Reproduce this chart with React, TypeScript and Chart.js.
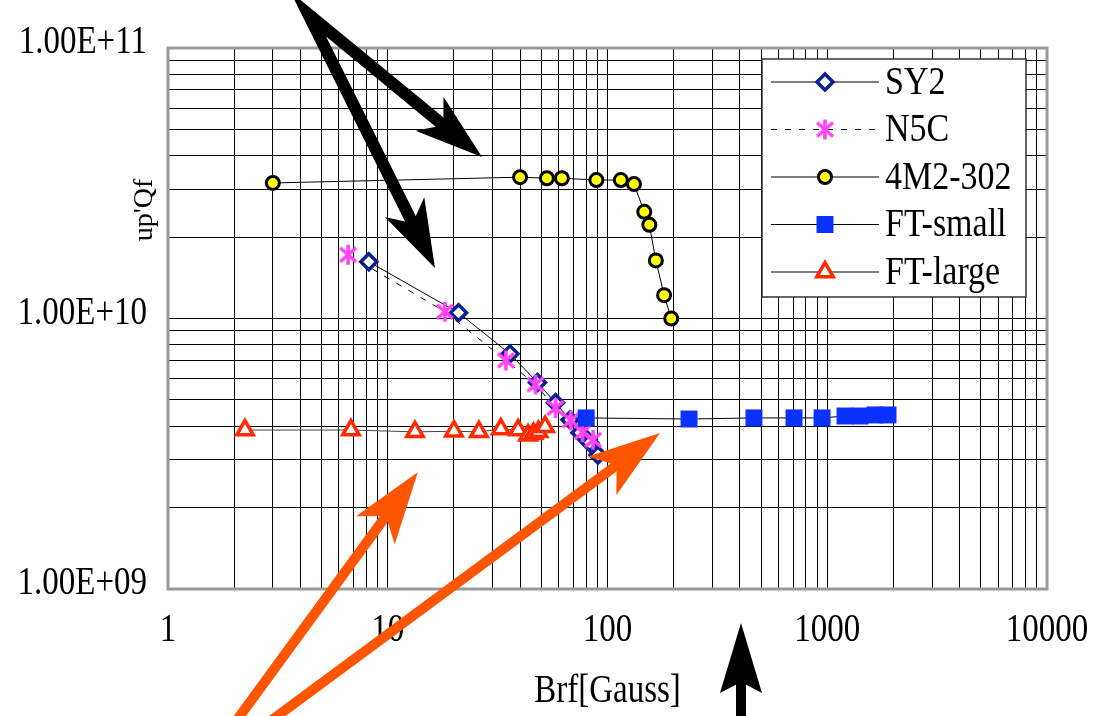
import React, { useEffect, useRef } from 'react';
import { Chart, registerables } from 'chart.js';
import { drawPoint } from 'chart.js/helpers';

Chart.register(...registerables);

// ---- data ----
const sy2X = [8.2, 21, 36, 48, 58, 67.5, 75, 83, 90.5];
const sy2Y = [1.62e10, 1.05e10, 7.4e9, 5.8e9, 4.88e9, 4.22e9, 3.78e9, 3.47e9, 3.13e9];

const n5cX = [6.6, 18.2, 34.5, 47, 58, 68, 77, 86];
const n5cY = [1.72e10, 1.06e10, 7.0e9, 5.7e9, 4.67e9, 4.2e9, 3.8e9, 3.56e9];

const m4X = [3, 40, 53, 62, 89, 115, 132, 147, 155, 166, 181, 195];
const m4Y = [3.17e10, 3.33e10, 3.3e10, 3.3e10, 3.25e10, 3.25e10, 3.14e10, 2.48e10, 2.22e10, 1.64e10, 1.22e10, 1.0e10];

const ftSmallX = [80, 235, 464, 706, 947, 1205, 1410, 1650, 1890];
const ftSmallY = [4.29e9, 4.25e9, 4.29e9, 4.29e9, 4.29e9, 4.36e9, 4.36e9, 4.4e9, 4.4e9];

const ftLargeX = [2.24, 6.8, 13.3, 20, 26, 32.7, 39.2, 43.5, 46, 48.5, 52];
const ftLargeY = [3.87e9, 3.87e9, 3.81e9, 3.83e9, 3.81e9, 3.9e9, 3.87e9, 3.7e9, 3.75e9, 3.81e9, 3.98e9];

const seriesNames = ['SY2', 'N5C', '4M2-302', 'FT-small', 'FT-large'];

const xTickValues = [1, 10, 100, 1000, 10000];
const xTickLabels = ['1', '10', '100', '1000', '10000'];
const yTickValues = [1e9, 1e10, 1e11];
const yTickLabels = ['1.00E+09', '1.00E+10', '1.00E+11'];
const xTitle = 'Brf[Gauss]';
const yTitle = "up'Qf";

// annotation arrows, in data coordinates
const blackArrowTail = [4.34, 1.336e11];
const blackArrowTips = [
  [26.85, 3.954e10],
  [16.4, 1.537e10],
];
const blackUpArrow = [405, 3.28e8, 405, 7.49e8];
const orangeArrows = [
  [2.06, 3.28e8, 13.7, 2.7e9],
  [2.97, 3.28e8, 173.4, 3.77e9],
];

const SERIF = '"Liberation Serif", "Times New Roman", serif';

function txt(ctx, s, x, y, size, align, sy = 1.2) {
  ctx.save();
  ctx.translate(x, y);
  ctx.scale(1, sy);
  ctx.font = `${size}px ${SERIF}`;
  ctx.textAlign = align;
  ctx.textBaseline = 'middle';
  ctx.fillStyle = '#000';
  ctx.fillText(s, 0, 0);
  ctx.restore();
}

function arrowHead(ctx, x0, y0, x1, y1, L, W, N) {
  const dx = x1 - x0, dy = y1 - y0;
  const len = Math.hypot(dx, dy);
  const ux = dx / len, uy = dy / len;
  const nx = -uy, ny = ux;
  ctx.beginPath();
  ctx.moveTo(x1, y1);
  ctx.lineTo(x1 - ux * L + nx * W, y1 - uy * L + ny * W);
  ctx.lineTo(x1 - ux * N, y1 - uy * N);
  ctx.lineTo(x1 - ux * L - nx * W, y1 - uy * L - ny * W);
  ctx.closePath();
  ctx.fill();
  return [x1 - ux * N, y1 - uy * N];
}

function makeGridTicks(min, max) {
  const ticks = [];
  for (let e = Math.round(Math.log10(min)); e <= Math.round(Math.log10(max)); e++) {
    for (let m = 1; m <= 9; m++) {
      const v = m * Math.pow(10, e);
      if (v >= min * 0.999 && v <= max * 1.001) ticks.push({ value: v });
    }
  }
  return ticks;
}

function makeAsterisk() {
  const c = document.createElement('canvas');
  c.width = 20;
  c.height = 22;
  const g = c.getContext('2d');
  g.strokeStyle = '#ff44f4';
  g.lineWidth = 3.6;
  g.lineCap = 'butt';
  g.beginPath();
  g.moveTo(10, 1); g.lineTo(10, 21);
  g.moveTo(2, 4); g.lineTo(18, 18);
  g.moveTo(18, 4); g.lineTo(2, 18);
  g.stroke();
  return c;
}

const decorPlugin = {
  id: 'decor',
  beforeDatasetsDraw(chart) {
    const { ctx, chartArea } = chart;
    ctx.save();
    ctx.strokeStyle = '#9a9a9a';
    ctx.lineWidth = 3;
    ctx.strokeRect(chartArea.left, chartArea.top, chartArea.right - chartArea.left, chartArea.bottom - chartArea.top);
    ctx.restore();
  },
  afterDraw(chart) {
    const { ctx } = chart;
    const xs = chart.scales.x, ys = chart.scales.y;
    const px = (v) => xs.getPixelForValue(v);
    const py = (v) => ys.getPixelForValue(v);

    // tick labels and titles
    yTickValues.forEach((v, i) => txt(ctx, yTickLabels[i], 147, py(v) - 5, 33, 'right'));
    xTickValues.forEach((v, i) => txt(ctx, xTickLabels[i], px(v), 631, 33, 'center'));
    txt(ctx, xTitle, (chart.chartArea.left + chart.chartArea.right) / 2, 692, 33, 'center');
    ctx.save();
    ctx.translate(145, 210);
    ctx.rotate(-Math.PI / 2);
    ctx.font = `28px ${SERIF}`;
    ctx.textAlign = 'center';
    ctx.textBaseline = 'middle';
    ctx.fillStyle = '#000';
    ctx.fillText(yTitle, 0, 0);
    ctx.restore();

    // arrows
    ctx.save();
    ctx.fillStyle = '#000';
    ctx.strokeStyle = '#000';
    const tx = px(blackArrowTail[0]), ty = py(blackArrowTail[1]);
    const ends = blackArrowTips.map((t) => arrowHead(ctx, tx, ty, px(t[0]), py(t[1]), 68, 22, 50));
    ctx.lineWidth = 12;
    ctx.lineJoin = 'miter';
    ctx.miterLimit = 10;
    ctx.beginPath();
    ctx.moveTo(ends[0][0], ends[0][1]);
    ctx.lineTo(tx, ty);
    ctx.lineTo(ends[1][0], ends[1][1]);
    ctx.stroke();

    const ua = blackUpArrow;
    const ue = arrowHead(ctx, px(ua[0]), py(ua[1]), px(ua[2]), py(ua[3]), 70, 21, 59);
    ctx.lineWidth = 10;
    ctx.beginPath();
    ctx.moveTo(px(ua[0]), py(ua[1]));
    ctx.lineTo(ue[0], ue[1]);
    ctx.stroke();

    ctx.fillStyle = '#ff5500';
    ctx.strokeStyle = '#ff5500';
    ctx.lineWidth = 10;
    orangeArrows.forEach((a) => {
      const e = arrowHead(ctx, px(a[0]), py(a[1]), px(a[2]), py(a[3]), 72, 24, 54);
      ctx.beginPath();
      ctx.moveTo(px(a[0]), py(a[1]));
      ctx.lineTo(e[0], e[1]);
      ctx.stroke();
    });
    ctx.restore();

    // legend
    const bx = 762, by = 59, bw = 264, bh = 238;
    ctx.save();
    ctx.fillStyle = '#fff';
    ctx.fillRect(bx, by, bw, bh);
    ctx.strokeStyle = '#333';
    ctx.lineWidth = 1.5;
    ctx.strokeRect(bx, by, bw, bh);
    chart.data.datasets.forEach((ds, i) => {
      const y = 82 + i * 47.5;
      ctx.beginPath();
      ctx.strokeStyle = '#000';
      ctx.lineWidth = 1;
      ctx.setLineDash(ds.borderDash || []);
      ctx.moveTo(771, y);
      ctx.lineTo(879, y);
      ctx.stroke();
      ctx.setLineDash([]);
      ctx.fillStyle = ds.pointBackgroundColor;
      ctx.strokeStyle = ds.pointBorderColor;
      ctx.lineWidth = ds.pointBorderWidth;
      drawPoint(ctx, { pointStyle: ds.pointStyle, radius: ds.pointRadius, borderWidth: ds.pointBorderWidth, rotation: 0 }, 825, y);
      txt(ctx, ds.label, 885, y + 1, 34, 'left');
    });
    ctx.restore();
  },
};

const toPts = (xs, ys) => xs.map((x, i) => ({ x, y: ys[i] }));

export default function App() {
  const ref = useRef(null);
  useEffect(() => {
    const asterisk = makeAsterisk();
    const chart = new Chart(ref.current, {
      type: 'scatter',
      data: {
        datasets: [
          {
            label: seriesNames[0], data: toPts(sy2X, sy2Y), showLine: true,
            borderColor: '#000', borderWidth: 1, order: 5,
            pointStyle: 'rectRot', pointRadius: 8, pointBorderWidth: 3.5,
            pointBackgroundColor: '#fff', pointBorderColor: '#0b2191',
          },
          {
            label: seriesNames[1], data: toPts(n5cX, n5cY), showLine: true,
            borderColor: '#000', borderWidth: 1, borderDash: [6, 8], order: 4,
            pointStyle: asterisk, pointRadius: 9, pointBorderWidth: 0,
            pointBackgroundColor: '#ff44f4', pointBorderColor: '#ff44f4',
          },
          {
            label: seriesNames[2], data: toPts(m4X, m4Y), showLine: true,
            borderColor: '#000', borderWidth: 1, order: 3,
            pointStyle: 'circle', pointRadius: 6.5, pointBorderWidth: 3,
            pointBackgroundColor: '#ffff00', pointBorderColor: '#000',
          },
          {
            label: seriesNames[3], data: toPts(ftSmallX, ftSmallY), showLine: true,
            borderColor: '#000', borderWidth: 1, order: 2,
            pointStyle: 'rect', pointRadius: 12, pointBorderWidth: 0,
            pointBackgroundColor: '#0a32ff', pointBorderColor: '#0a32ff',
          },
          {
            label: seriesNames[4], data: toPts(ftLargeX, ftLargeY), showLine: true,
            borderColor: '#444', borderWidth: 1, order: 1,
            pointStyle: 'triangle', pointRadius: 9.5, pointBorderWidth: 3.5,
            pointBackgroundColor: '#fff', pointBorderColor: '#ff2a00',
          },
        ],
      },
      options: {
        responsive: false,
        animation: false,
        layout: { padding: { left: 0, right: 46, top: 48, bottom: 0 } },
        plugins: { legend: { display: false }, tooltip: { enabled: false } },
        scales: {
          x: {
            type: 'logarithmic', min: 1, max: 10000,
            afterBuildTicks: (s) => { s.ticks = makeGridTicks(1, 10000); },
            afterFit: (s) => { s.height = 127; },
            ticks: { display: false },
            grid: { color: '#000', lineWidth: 1, drawTicks: false },
            border: { display: false },
          },
          y: {
            type: 'logarithmic', min: 1e9, max: 1e11,
            afterBuildTicks: (s) => { s.ticks = makeGridTicks(1e9, 1e11); },
            afterFit: (s) => { s.width = 168; },
            ticks: { display: false },
            grid: { color: '#000', lineWidth: 1, drawTicks: false },
            border: { display: false },
          },
        },
      },
      plugins: [decorPlugin],
    });
    return () => chart.destroy();
  }, []);
  return (
    <div style={{ position: 'absolute', left: 0, top: 0, width: 1093, height: 716, background: '#fff' }}>
      <canvas ref={ref} width={1093} height={716} style={{ display: 'block' }} />
    </div>
  );
}
